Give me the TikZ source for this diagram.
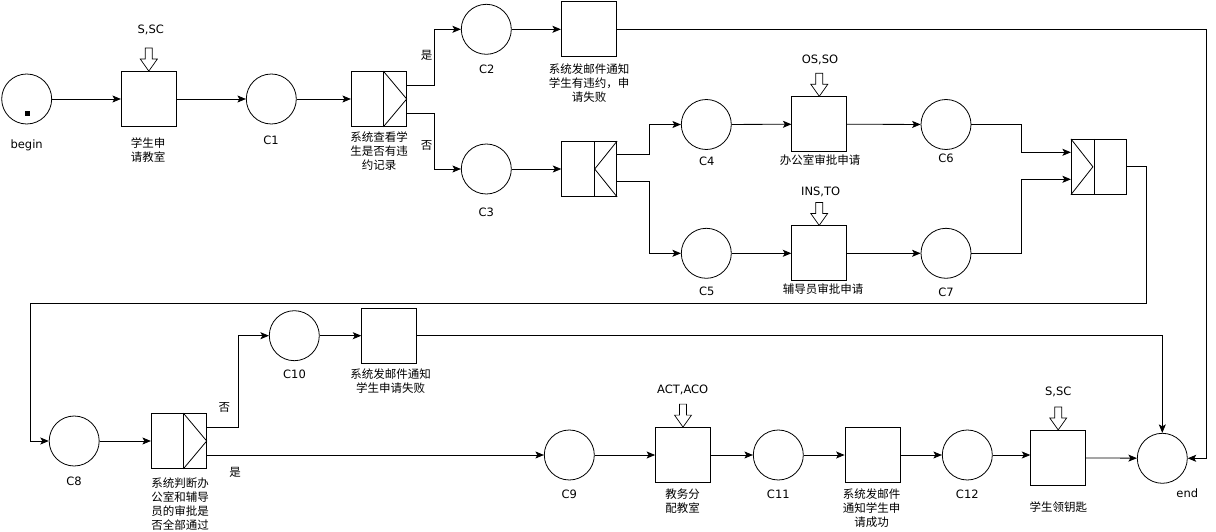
\documentclass[tikz,border=0pt]{standalone}
\usepackage{fontspec}
\setmainfont{DejaVu Sans}
\newfontfamily\cjk{Noto Sans CJK SC}
\usetikzlibrary{arrows.meta,calc}
\begin{document}
\begin{tikzpicture}[x=1pt,y=-1pt,
  place/.style={circle,draw,line width=0.8pt,minimum size=50pt,inner sep=0},
  task/.style={rectangle,draw,line width=0.8pt,minimum width=55pt,minimum height=55pt,inner sep=0},
  lbl/.style={font=\fontsize{11.5}{13}\selectfont,inner sep=0},
  clbl/.style={font=\cjk\fontsize{11.5}{14}\selectfont,align=center,inner sep=0},
  arr/.style={-{Stealth[length=8.5pt,width=7pt,inset=2pt]},line width=0.8pt},
  ln/.style={line width=0.8pt},
  resin/.pic={\draw[line width=0.7pt,fill=white] (-3.5,-23)--(3.5,-23)--(3.5,-12)--(8.5,-12)--(0,0)--(-8.5,-12)--(-3.5,-12)--cycle;}
]
\useasboundingbox (0,0) rectangle (1216,532);
% nodes
\node[place] (begin) at (26.7,99) {};
\fill (25.3,111.2) rectangle (30,116.5);
\node[task] (t1) at (148.8,99) {};
\node[place] (c1) at (271.3,99) {};
\node[task] (s1) at (378.8,99) {};
\node[place] (c2) at (486.3,29.3) {};
\node[task] (t2) at (588.8,29.3) {};
\node[place] (c3) at (486.3,169) {};
\node[task] (s2) at (589.2,169) {};
\node[place] (c4) at (706.3,124.5) {};
\node[task] (t3) at (819.3,124.2) {};
\node[place] (c6) at (946,124.5) {};
\node[place] (c5) at (706.3,253.3) {};
\node[task] (t4) at (819.2,253.3) {};
\node[place] (c7) at (946,253.3) {};
\node[task] (j1) at (1098.8,166.8) {};
\node[place] (c8) at (74.2,441) {};
\node[task] (s3) at (178.8,441) {};
\node[place] (c10) at (294.3,335.7) {};
\node[task] (t5) at (389.2,335.7) {};
\node[place] (c9) at (569.3,455) {};
\node[task] (t6) at (683,455) {};
\node[place] (c11) at (778.3,455) {};
\node[task] (t7) at (872.5,455) {};
\node[place] (c12) at (967.3,455) {};
\node[task] (t8) at (1058.2,457.8) {};
\node[place] (end) at (1162.3,458.3) {};
% split / join decorations
\draw[ln] ([xshift=-23.4pt]s1.north east) -- ([xshift=-23.4pt]s1.south east);
\draw[ln] ([xshift=-23.4pt]s1.north east) -- (s1.east) -- ([xshift=-23.4pt]s1.south east);
\draw[ln] ([xshift=-22.4pt]s2.north east) -- ([xshift=-22.4pt]s2.south east);
\draw[ln] (s2.north east) -- ([xshift=-22.4pt]s2.east) -- (s2.south east);
\draw[ln] ([xshift=23.3pt]j1.north west) -- ([xshift=23.3pt]j1.south west);
\draw[ln] (j1.north west) -- ([xshift=22pt]j1.west) -- (j1.south west);
\draw[ln] ([xshift=-23.4pt]s3.north east) -- ([xshift=-23.4pt]s3.south east);
\draw[ln] ([xshift=-23.4pt]s3.north east) -- (s3.east) -- ([xshift=-23.4pt]s3.south east);
% resource arrows
\pic at (t1.north) {resin};
\pic at (t3.north) {resin};
\pic at (t4.north) {resin};
\pic at (t6.north) {resin};
\pic at (t8.north) {resin};
% connectors
\draw[arr] (begin) -- (t1);
\draw[arr] (t1) -- (c1);
\draw[arr] (c1) -- (s1);
\draw[arr] ([yshift=13.7pt]s1.east) -- ++(27.6,0) |- (c2);
\draw[arr] ([yshift=-14.3pt]s1.east) -- ++(27.6,0) |- (c3);
\draw[arr] (c2) -- (t2);
\draw[arr] (t2.east) -| ([xshift=18.7pt]end.east) -- (end.east);
\draw[arr] (c3) -- (s2);
\draw[arr] ([yshift=14.2pt]s2.east) -- ++(32.6,0) |- (c4);
\draw[arr] ([yshift=-12.5pt]s2.east) -- ++(32.6,0) |- (c5);
\draw[arr] (c4) -- (t3);
\draw[arr] (t3) -- (c6);
\draw[arr] (c5) -- (t4);
\draw[arr] (t4) -- (c7);
\draw[arr] (c6.east) -- ++(50,0) |- ([yshift=14.5pt]j1.west);
\draw[arr] (c7.east) -- ++(50,0) |- ([yshift=-12.5pt]j1.west);
\draw[arr] (j1.east) -- ++(20,0) -- ++(0,136.5) -| ([xshift=-18pt]c8.west) -- (c8.west);
\draw[arr] (c8) -- (s3);
\draw[arr] ([yshift=14pt]s3.east) -- ++(31.6,0) |- (c10);
\draw[arr] (c10) -- (t5);
\draw[arr] (t5.east) -| (end.north);
\draw[arr] ([yshift=-14pt]s3.east) -- (c9.west);
\draw[arr] (c9) -- (t6);
\draw[arr] (t6) -- (c11);
\draw[arr] (c11) -- (t7);
\draw[arr] (t7) -- (c12);
\draw[arr] (c12.east) -- (c12.east -| t8.west);
\draw[arr] (t8) -- (end);
% labels
\node[lbl] (lbegin) at (26.7,145) {begin};
\node[lbl] (lres1) at (150.7,30) {S,SC};
\node[clbl] (lt1) at (148,150) {学生申\\请教室};
\node[lbl] (lc1) at (271,140) {C1};
\node[clbl] (ls1) at (379,151.5) {系统查看学\\生是否有违\\约记录};
\node[clbl] (yes1) at (426.7,55) {是};
\node[clbl] (no1) at (426.7,145) {否};
\node[lbl] (lc2) at (486.7,69) {C2};
\node[clbl] (lt2) at (589,83.5) {系统发邮件通知\\学生有违约，申\\请失败};
\node[lbl] (lc3) at (486.3,212) {C3};
\node[lbl] (lc4) at (706.7,161.7) {C4};
\node[clbl] (lt3) at (820,160) {办公室审批申请};
\node[lbl] (los) at (820,60) {OS,SO};
\node[lbl] (lc6) at (946,158) {C6};
\node[lbl] (lins) at (820.7,192.3) {INS,TO};
\node[lbl] (lc5) at (706.7,291.7) {C5};
\node[clbl] (lt4) at (823,289.3) {辅导员审批申请};
\node[lbl] (lc7) at (946,292) {C7};
\node[lbl] (lc8) at (74,481) {C8};
\node[clbl] (ls3) at (180,504.5) {系统判断办\\公室和辅导\\员的审批是\\否全部通过};
\node[clbl] (no2) at (224.3,407.3) {否};
\node[clbl] (yes2) at (235,472.7) {是};
\node[lbl] (lc10) at (294.5,374.3) {C10};
\node[clbl] (lt5) at (390.7,380.8) {系统发邮件通知\\学生申请失败};
\node[lbl] (lc9) at (569.3,494) {C9};
\node[lbl] (lact) at (682.7,390) {ACT,ACO};
\node[clbl] (lt6) at (682.7,501.2) {教务分\\配教室};
\node[lbl] (lc11) at (778.3,494) {C11};
\node[clbl] (lt7) at (871.7,508.5) {系统发邮件\\通知学生申\\请成功};
\node[lbl] (lc12) at (967.3,494) {C12};
\node[lbl] (lss) at (1058.3,391.7) {S,SC};
\node[clbl] (lt8) at (1058.3,507.3) {学生领钥匙};
\node[lbl] (lend) at (1187.3,493.3) {end};
\end{tikzpicture}
\end{document}
